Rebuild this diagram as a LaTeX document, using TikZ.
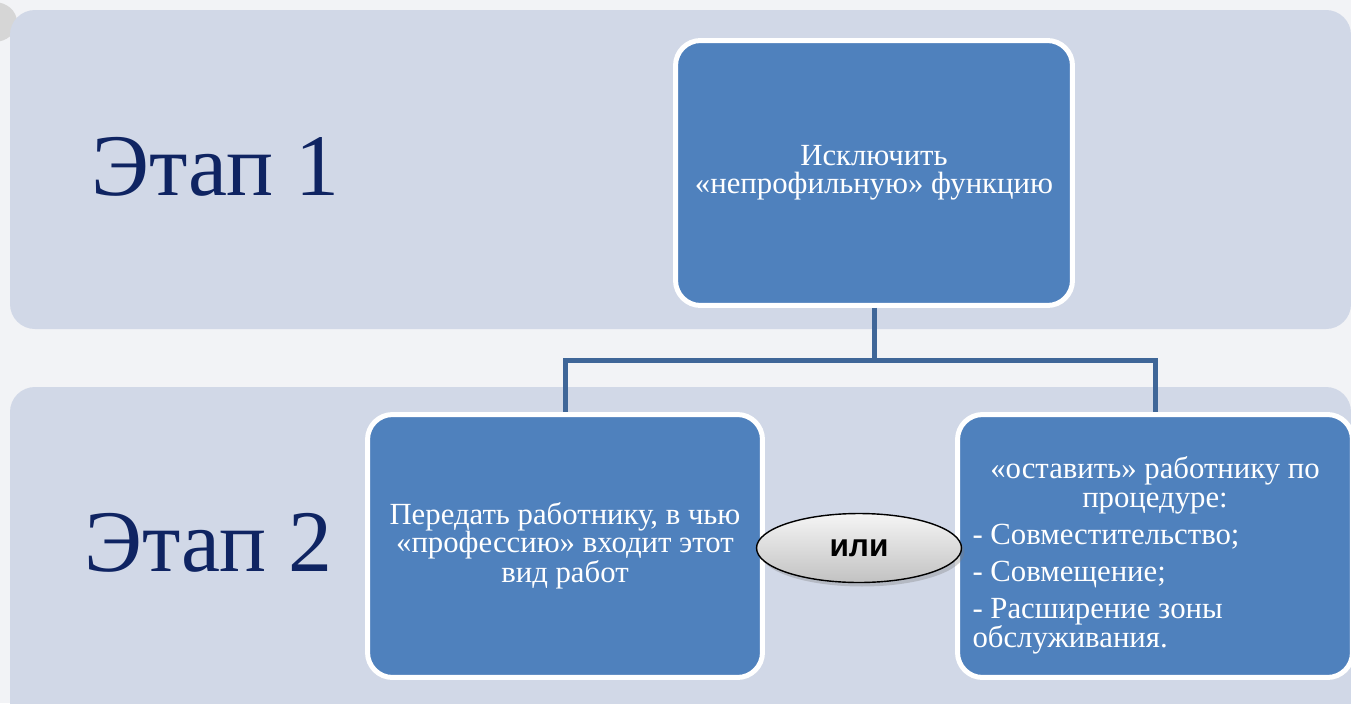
\documentclass[tikz,border=0pt]{standalone}
\usepackage{fontspec}
\setmainfont{Liberation Serif}
\newfontfamily\orfont{Liberation Sans}
\usepackage{tikz}
\usetikzlibrary{positioning}
\usetikzlibrary{shapes.geometric}
\usetikzlibrary{shadows}
\definecolor{bandcol}{HTML}{D1D8E7}
\definecolor{boxcol}{HTML}{4F81BD}
\definecolor{linecol}{HTML}{3F6698}
\definecolor{stagecol}{HTML}{0F2462}
\definecolor{pagecol}{HTML}{F2F3F6}

\begin{document}
\begin{tikzpicture}[x=0.02cm,y=-0.02cm
                   ,band/.style={fill=bandcol,rounded corners=0.5cm}
                   ,stage/.style={anchor=base west,inner sep=0pt,text=stagecol
                                 ,font=\fontsize{50}{58}\selectfont}
                   ,box/.style={draw=white,line width=0.1cm,fill=boxcol
                               ,rounded corners=0.5cm,outer sep=0.05cm
                               ,minimum width=7.9cm,minimum height=5.26cm
                               ,text=white,align=center
                               ,font=\fontsize{17.5}{16}\selectfont}
                   ,conn/.style={draw=linecol,line width=0.1cm}
                   ,orsign/.style={ellipse,draw=black,line width=0.8pt
                                  ,top color=white!96!black,bottom color=black!24
                                  ,minimum width=4.1cm,minimum height=1.38cm
                                  ,font=\orfont\bfseries\fontsize{18}{20}\selectfont
                                  ,drop shadow={shadow xshift=0.06cm,shadow yshift=-0.08cm,opacity=0.35}}]
  \useasboundingbox (0,0) rectangle (1351,703);
  \fill[pagecol] (0,0) rectangle (1351,703);
  \fill[black!16] (-6,22) ellipse [x radius=0.46cm,y radius=0.4cm];
  \fill[band] (10,10) rectangle (1351,329);
  \fill[band] (10,387) rectangle (1351,740);

  \node[stage] (st1) at (91,195) {Этап 1};
  \node[stage] (st2) at (84,571) {Этап 2};

  \node[box,minimum width=7.94cm,minimum height=5.3cm] (cut) at (874,173)
    {Исключить\\«непрофильную» функцию};
  \node[box] (pass) at (565,546)
    {Передать работнику, в чью\\«профессию» входит этот\\вид работ};
  \node[box,text width=7.3cm,align=flush left,font=\fontsize{17.5}{16.5}\selectfont] (keep) at (1155,546)
    {\setlength{\parskip}{4.5pt}{\centering\rule{0pt}{23pt}«оставить» работнику по\\процедуре:\par}
     - Совместительство;\par
     - Совмещение;\par
     - Расширение зоны\\обслуживания.};

  \coordinate (fork) at (874,360);
  \path[conn]
    (cut) -- (fork) -| (pass)
    (fork) -| (keep)
    ;
  \node[orsign] (or) at (859,548) {или};
\end{tikzpicture}
\end{document}
